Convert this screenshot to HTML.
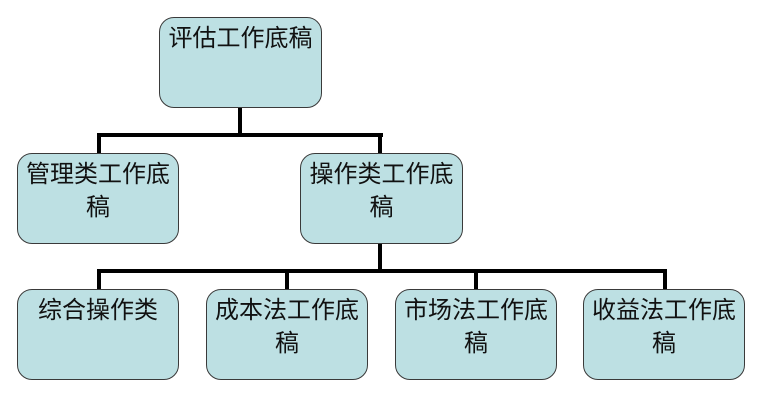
<!DOCTYPE html>
<html>
<head>
<meta charset="utf-8">
<style>
  html, body { margin:0; padding:0; background:#fff; }
  body { width:758px; height:401px; position:relative; overflow:hidden; }
  .ln { position:absolute; background:#000; }
  .box {
    position:absolute; box-sizing:border-box; width:162px; height:91px;
    background:#bde0e3; border:1px solid #3a3a3a; border-radius:15px;
    font-family:"Liberation Sans","Noto Sans CJK SC","WenQuanYi Zen Hei",sans-serif;
    font-size:24px; line-height:33px; color:#111; text-align:center;
    padding-top:4px;
  }
</style>
</head>
<body>
  <!-- connectors -->
  <div class="ln" style="left:238px;top:107px;width:4px;height:30px;"></div>
  <div class="ln" style="left:97px;top:133px;width:286px;height:4px;"></div>
  <div class="ln" style="left:97px;top:133px;width:4px;height:21px;"></div>
  <div class="ln" style="left:378px;top:133px;width:4px;height:21px;"></div>
  <div class="ln" style="left:378px;top:243px;width:4px;height:30px;"></div>
  <div class="ln" style="left:97px;top:269px;width:570px;height:4px;"></div>
  <div class="ln" style="left:97px;top:269px;width:4px;height:21px;"></div>
  <div class="ln" style="left:285px;top:269px;width:4px;height:21px;"></div>
  <div class="ln" style="left:474px;top:269px;width:4px;height:21px;"></div>
  <div class="ln" style="left:663px;top:269px;width:4px;height:21px;"></div>

  <!-- boxes -->
  <div class="box" style="left:159px;top:17px;width:163px;">评估工作底稿</div>
  <div class="box" style="left:17px;top:153px;">管理类工作底<br>稿</div>
  <div class="box" style="left:300px;top:153px;width:163px;">操作类工作底<br>稿</div>
  <div class="box" style="left:17px;top:289px;">综合操作类</div>
  <div class="box" style="left:206px;top:289px;">成本法工作底<br>稿</div>
  <div class="box" style="left:395px;top:289px;">市场法工作底<br>稿</div>
  <div class="box" style="left:583px;top:289px;">收益法工作底<br>稿</div>
</body>
</html>
